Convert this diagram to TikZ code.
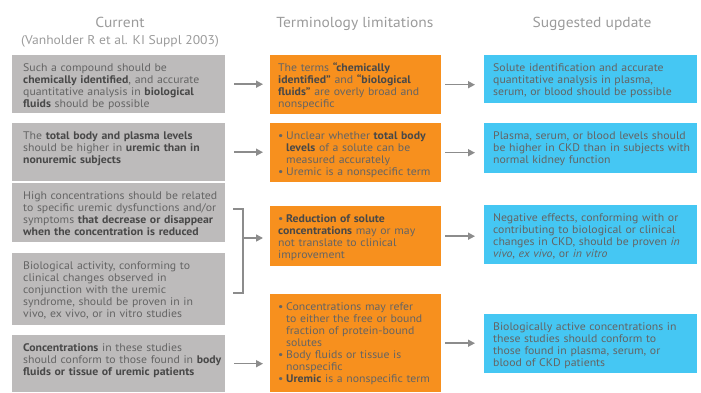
\documentclass[tikz,border=0pt]{standalone}
\usepackage{fontspec}
\setmainfont{PT Sans}[FakeStretch=1.07]
\usetikzlibrary{arrows.meta}
\definecolor{grayfill}{HTML}{BDBBBB}
\definecolor{orangefill}{HTML}{F7901E}
\definecolor{bluefill}{HTML}{45C7F3}
\definecolor{textc}{HTML}{646464}
\definecolor{boldc}{HTML}{484848}
\definecolor{headc}{HTML}{9B9B9B}
\definecolor{arrc}{HTML}{8C8C8C}
\newcommand\bt[1]{{\bfseries\color{boldc}#1}}
\newcommand\bul{\hangindent=8bp\hangafter=1\noindent\makebox[8bp][l]{•}}
\tikzset{
  boxn/.style={draw=none, inner sep=0pt, anchor=north west},
  gbox/.style={boxn, fill=grayfill, minimum width=213bp},
  obox/.style={boxn, fill=orangefill, minimum width=171bp},
  bbox/.style={boxn, fill=bluefill, minimum width=213bp},
  txt/.style={anchor=base west, inner sep=0pt, text width=230bp,
    font=\fontsize{11bp}{12bp}\selectfont, text=textc},
  head/.style={anchor=base, inner sep=0pt, font=\fontsize{14.5bp}{16bp}\selectfont, text=headc},
  subhead/.style={head, font=\fontsize{12.7bp}{14bp}\selectfont},
  ln/.style={draw=arrc, line width=1.5bp},
  arr/.style={ln, -{Triangle[length=7bp,width=7bp]}},
}
\begin{document}
\begin{tikzpicture}[x=1bp,y=-1bp]
\useasboundingbox (0,0) rectangle (701,392);
% headers
\node[head] (hc) at (120,27) {Current};
\node[subhead] (hr) at (120,44.5) {(Vanholder R et al. KI Suppl 2003)};
\node[head] (ht) at (355,27) {Terminology limitations};
\node[head] (hs) at (592,27) {Suggested update};
% gray boxes
\node[gbox, minimum height=58bp] (g1) at (12,55) {};
\node[gbox, minimum height=58bp] (g2) at (12,123) {};
\node[gbox, minimum height=59bp] (g3) at (12,183) {};
\node[gbox, minimum height=72bp] (g4) at (12,253) {};
\node[gbox, minimum height=57bp] (g5) at (12,335) {};
% orange boxes
\node[obox, minimum height=59bp] (o1) at (270,55) {};
\node[obox, minimum height=59bp] (o2) at (270,123) {};
\node[obox, minimum height=60bp] (o3) at (270,206) {};
\node[obox, minimum height=98bp] (o4) at (270,294) {};
% blue boxes
\node[bbox, minimum height=48bp] (b1) at (484,55) {};
\node[bbox, minimum height=50bp] (b2) at (484,123) {};
\node[bbox, minimum height=59bp] (b3) at (484,205) {};
\node[bbox, minimum height=59bp] (b4) at (484,314) {};
% gray texts
\node[txt] (g1t) at ([shift={(11bp,-16.5bp)}]g1.north west) {Such a compound should be\newline
\bt{chemically identified}, and accurate\newline
quantitative analysis in \bt{biological}\newline
\bt{fluids} should be possible};
\node[txt] (g2t) at ([shift={(11bp,-16.5bp)}]g2.north west) {The \bt{total body and plasma levels}\newline
should be higher in \bt{uremic than in}\newline
\bt{nonuremic subjects}};
\node[txt] (g3t) at ([shift={(11bp,-16.5bp)}]g3.north west) {High concentrations should be related\newline
to specific uremic dysfunctions and/or\newline
symptoms \bt{that decrease or disappear}\newline
\bt{when the concentration is reduced}};
\node[txt] (g4t) at ([shift={(11bp,-16.5bp)}]g4.north west) {Biological activity, conforming to\newline
clinical changes observed in\newline
conjunction with the uremic\newline
syndrome, should be proven in in\newline
vivo, ex vivo, or in vitro studies};
\node[txt] (g5t) at ([shift={(11bp,-16.5bp)}]g5.north west) {\bt{Concentrations} in these studies\newline
should conform to those found in \bt{body}\newline
\bt{fluids or tissue of uremic patients}};
% orange texts
\node[txt] (o1t) at ([shift={(8bp,-16.5bp)}]o1.north west) {The terms \bt{“chemically}\newline
\bt{identified”} and \bt{“biological}\newline
\bt{fluids”} are overly broad and\newline
nonspecific};
\node[txt] (o2t) at ([shift={(8bp,-16.5bp)}]o2.north west) {\bul Unclear whether \bt{total body}\newline
\bt{levels} of a solute can be\newline
measured accurately\par
\bul Uremic is a nonspecific term};
\node[txt] (o3t) at ([shift={(8bp,-16.5bp)}]o3.north west) {\bul \bt{Reduction of solute}\newline
\bt{concentrations} may or may\newline
not translate to clinical\newline
improvement};
\node[txt] (o4t) at ([shift={(8bp,-16.5bp)}]o4.north west) {\bul Concentrations may refer\newline
to either the free or bound\newline
fraction of protein-bound\newline
solutes\par
\bul Body fluids or tissue is\newline
nonspecific\par
\bul \bt{Uremic} is a nonspecific term};
% blue texts
\node[txt] (b1t) at ([shift={(9bp,-16.5bp)}]b1.north west) {Solute identification and accurate\newline
quantitative analysis in plasma,\newline
serum, or blood should be possible};
\node[txt] (b2t) at ([shift={(9bp,-16.5bp)}]b2.north west) {Plasma, serum, or blood levels should\newline
be higher in CKD than in subjects with\newline
normal kidney function};
\node[txt] (b3t) at ([shift={(9bp,-16.5bp)}]b3.north west) {Negative effects, conforming with or\newline
contributing to biological or clinical\newline
changes in CKD, should be proven \textit{in}\newline
\textit{vivo}, \textit{ex vivo}, or \textit{in vitro}};
\node[txt] (b4t) at ([shift={(9bp,-16.5bp)}]b4.north west) {Biologically active concentrations in\newline
these studies should conform to\newline
those found in plasma, serum, or\newline
blood of CKD patients};
% bracket
\coordinate (bt) at (233,209);
\coordinate (bb) at (233,293);
\coordinate (bm) at (243,238);
\draw[ln] (bt) -| (bm) |- (bb);
% arrows
\draw[arr, shorten <=9bp, shorten >=7bp] (g1.east) -- (g1.east -| o1.west);
\draw[arr, shorten <=9bp, shorten >=7bp] (g2.east) -- (g2.east -| o2.west);
\draw[arr, shorten >=7bp] (bm) -- (bm -| o3.west);
\draw[arr, shorten <=9bp, shorten >=7bp] (g5.east) -- (g5.east -| o4.west);
\draw[arr, shorten <=4bp, shorten >=9bp] (o1.east) -- (o1.east -| b1.west);
\draw[arr, shorten <=4bp, shorten >=9bp] (o2.east) -- (o2.east -| b2.west);
\draw[arr, shorten <=4bp, shorten >=9bp] (o3.east) -- (o3.east -| b3.west);
\draw[arr, shorten <=4bp, shorten >=9bp] (o4.east) -- (o4.east -| b4.west);
\end{tikzpicture}
\end{document}
